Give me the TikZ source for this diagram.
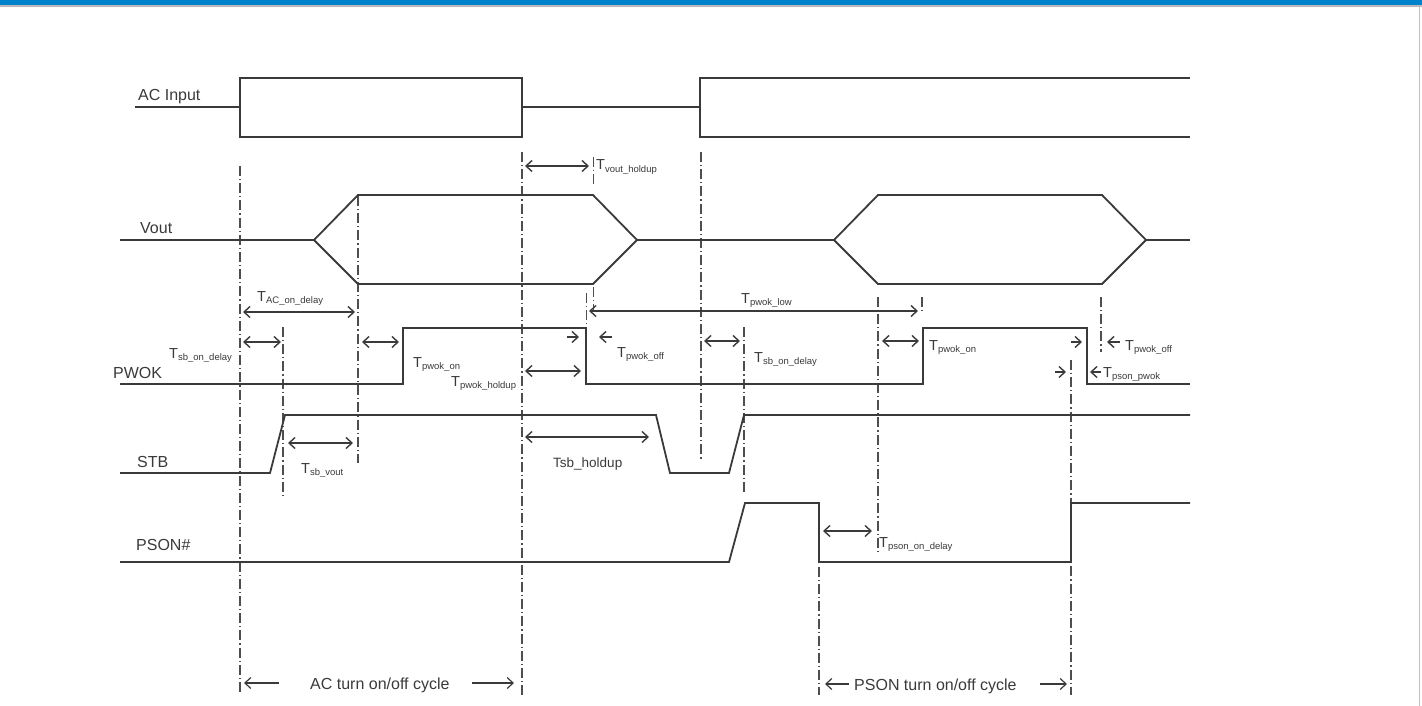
\documentclass[tikz,border=0pt]{standalone}
\usepackage{fontspec}
\setmainfont{Liberation Sans}
\usetikzlibrary{arrows.meta}
\definecolor{sig}{HTML}{3A3A3A}
\definecolor{band}{HTML}{0081CC}
\newcommand{\Tlab}[1]{T\raisebox{-2.5pt}{\fontsize{9.5}{10}\selectfont #1}}
\begin{document}
\begin{tikzpicture}[x=1pt,y=-1pt,
 sigline/.style={line width=1.8pt, draw=sig, line join=miter},
 guide/.style={line width=1.1pt, draw=sig!90, dash pattern=on 10pt off 3pt on 1.2pt off 3pt},
 dim/.style={line width=1.4pt, draw=sig, {Straight Barb[length=6pt,width=11pt]}-{Straight Barb[length=6pt,width=11pt]}},
 rdim/.style={line width=1.4pt, draw=sig, -{Straight Barb[length=6pt,width=11pt]}},
 sname/.style={font=\fontsize{16}{16}\selectfont, text=sig, anchor=base west, inner sep=0pt},
 tlab/.style={font=\fontsize{14.5}{15}\selectfont, text=sig, anchor=base west, inner sep=0pt},
]
\useasboundingbox (0,0) rectangle (1422,706);
\fill[band] (0,0) rectangle (1422,5);
\draw[gray!55, line width=1.5pt] (0,6) -- (1422,6);
\draw[gray!50, line width=1.5pt] (1419.5,6) -- (1419.5,706);

% signal names
\node[sname] (nac) at (138,101) {AC Input};
\node[sname] (nvout) at (140,233) {Vout};
\node[sname] (npwok) at (113,378) {PWOK};
\node[sname] (nstb) at (137,467) {STB};
\node[sname] (npson) at (136,550) {PSON\#};

% guide lines
\draw[guide] (240,166) -- (240,693);
\draw[guide] (522,152) -- (522,695);
\draw[guide] (593.5,157) -- (593.5,185);
\draw[guide] (593.5,287) -- (593.5,312);
\draw[guide] (586.5,293) -- (586.5,350);
\draw[guide] (358,196) -- (358,463);
\draw[guide] (283,327) -- (283,495);
\draw[guide] (701,152) -- (701,460);
\draw[guide] (744,327) -- (744,493);
\draw[guide] (878,297) -- (878,552);
\draw[guide] (922,297) -- (922,313);
\draw[guide] (1101,297) -- (1101,352);
\draw[guide] (1071,360) -- (1071,695);
\draw[guide] (819,567) -- (819,695);

% AC input
\draw[sigline] (135,107) -- (240,107);
\draw[sigline] (240,78) rectangle (522,137);
\draw[sigline] (522,107) -- (700,107);
\draw[sigline] (1190,78) -- (700,78) -- (700,137) -- (1190,137);

% Vout
\draw[sigline] (120,240) -- (314,240);
\draw[sigline] (314,240) -- (358,195) -- (593,195) -- (637,240) -- (593,284) -- (358,284) -- cycle;
\draw[sigline] (637,240) -- (834,240);
\draw[sigline] (834,240) -- (878,195) -- (1102,195) -- (1146,240) -- (1102,284) -- (878,284) -- cycle;
\draw[sigline] (1146,240) -- (1190,240);

% PWOK
\draw[sigline] (120,384) -- (403,384) -- (403,328) -- (586,328) -- (586,384) -- (923,384) -- (923,328) -- (1087,328) -- (1087,384) -- (1190,384);

% STB
\draw[sigline] (120,473) -- (270,473) -- (285,415) -- (656,415) -- (670,473) -- (729,473) -- (744,415) -- (1190,415);

% PSON#
\draw[sigline] (120,562) -- (729,562) -- (745,503) -- (819,503) -- (819,562) -- (1071,562) -- (1071,503) -- (1190,503);

% dimension arrows
\draw[dim] (525,166) -- (589,166);
\draw[dim] (243,312) -- (355,312);
\draw[dim] (243,342) -- (281,342);
\draw[dim] (362,342) -- (399,342);
\draw[dim] (288,443) -- (353,443);
\draw[dim] (525,371) -- (581,371);
\draw[dim] (525,437) -- (649,437);
\draw[dim] (589,311) -- (918,311);
\draw[rdim] (567,337) -- (579,337);
\draw[rdim] (612,337) -- (599,337);
\draw[dim] (704,341) -- (740,341);
\draw[dim] (882,341) -- (919,341);
\draw[rdim] (1071,342) -- (1082,342);
\draw[rdim] (1120,342) -- (1107,342);
\draw[rdim] (1055,372) -- (1066,372);
\draw[rdim] (1101,372) -- (1090,372);
\draw[dim] (823,531) -- (872,531);
\draw[rdim, line width=1.2pt] (279,683) -- (244,683);
\draw[rdim, line width=1.2pt] (472,683) -- (514,683);
\draw[rdim, line width=1.2pt] (849,684) -- (825,684);
\draw[rdim, line width=1.2pt] (1040,684) -- (1067,684);

% timing labels
\node[tlab] (lvh) at (596,170) {\Tlab{vout\_holdup}};
\node[tlab] (lac) at (257,301) {\Tlab{AC\_on\_delay}};
\node[tlab] (lsb1) at (169,358) {\Tlab{sb\_on\_delay}};
\node[tlab] (lpo1) at (413,367) {\Tlab{pwok\_on}};
\node[tlab] (lph) at (451,386) {\Tlab{pwok\_holdup}};
\node[tlab] (lsv) at (301,473) {\Tlab{sb\_vout}};
\node[tlab] (lpf1) at (617,357) {\Tlab{pwok\_off}};
\node[tlab] (lpl) at (741,303) {\Tlab{pwok\_low}};
\node[tlab] (lsb2) at (754,362) {\Tlab{sb\_on\_delay}};
\node[tlab] (lpo2) at (929,350) {\Tlab{pwok\_on}};
\node[tlab] (lpf2) at (1125,350) {\Tlab{pwok\_off}};
\node[tlab] (lpp) at (1103,377) {\Tlab{pson\_pwok}};
\node[tlab] (lpsd) at (879,547) {\Tlab{pson\_on\_delay}};
\node[tlab, font=\fontsize{13.5}{14}\selectfont] (lsh) at (553,467) {Tsb\_holdup};
\node[sname] (lacc) at (310,689) {AC turn on/off cycle};
\node[sname] (lpsc) at (854,690) {PSON turn on/off cycle};
\end{tikzpicture}
\end{document}
